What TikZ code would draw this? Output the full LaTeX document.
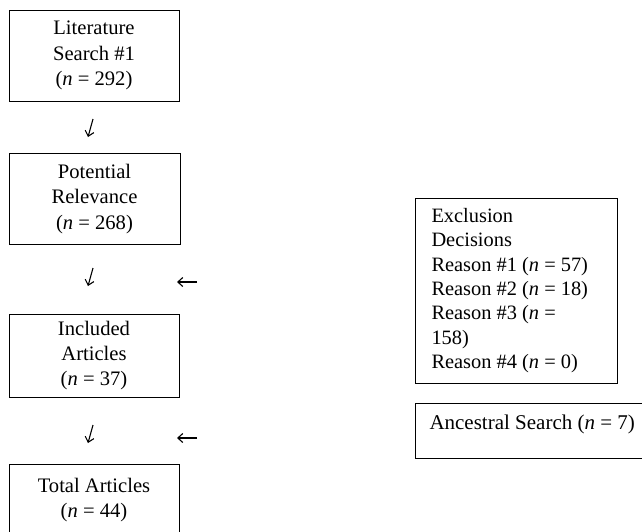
\documentclass[tikz,border=0pt]{standalone}
\usepackage{fontspec}
\setmainfont{Liberation Serif}
\usetikzlibrary{arrows.meta}
\begin{document}
\begin{tikzpicture}[x=1pt,y=-1pt,
  box/.style={draw, line width=1pt, align=center, inner sep=0pt,
    font=\fontsize{20.6}{25.2}\selectfont},
  lbox/.style={draw, line width=1pt, align=left, inner ysep=0pt,
    font=\fontsize{20.4}{24.3}\selectfont},
  arr/.style={line width=1.1pt, -{Straight Barb[length=5pt,width=9pt]}}]
\useasboundingbox (0,0) rectangle (642,531);
\clip (0,0) rectangle (642,531);
\node[box, minimum width=170pt, minimum height=91pt] (lit) at (94,55.5)
  {Literature\\Search \#1\\(\textit{n} = 292)};
\node[box, minimum width=171pt, minimum height=91pt] (pot) at (94.5,199)
  {Potential\\Relevance\\(\textit{n} = 268)};
\node[box, minimum width=170pt, minimum height=83pt] (inc) at (94,355.5)
  {Included\\Articles\\(\textit{n} = 37)};
\node[box, minimum width=170pt, minimum height=72pt] (tot) at (94,500)
  {Total Articles\\(\textit{n} = 44)};
\node[lbox, anchor=north west, inner xsep=16pt,
  minimum height=185pt] (exc) at (415,197.5)
  {\makebox[170pt][l]{Exclusion}\\Decisions\\Reason \#1 (\textit{n} = 57)\\Reason \#2 (\textit{n} = 18)\\Reason \#3 (\textit{n} =\\158)\\Reason \#4 (\textit{n} = 0)};
\node[lbox, anchor=west, inner xsep=14pt, minimum height=55pt,
  font=\fontsize{21}{24}\selectfont,
  text height=15pt, text depth=18pt] (anc) at (415,430.5)
  {\makebox[225pt][l]{Ancestral Search (\textit{n} = 7)}};
\coordinate (d1s) at (93,119);   \coordinate (d1e) at (88,137);
\coordinate (d2s) at (93,268);   \coordinate (d2e) at (88,286);
\coordinate (d3s) at (93,425);   \coordinate (d3e) at (88,443);
\coordinate (l1s) at (197,282);  \coordinate (l1e) at (177,282);
\coordinate (l2s) at (197,438);  \coordinate (l2e) at (177,438);
\draw[arr] (d1s) -- (d1e);
\draw[arr] (d2s) -- (d2e);
\draw[arr] (d3s) -- (d3e);
\draw[arr] (l1s) -- (l1e);
\draw[arr] (l2s) -- (l2e);
\end{tikzpicture}
\end{document}
